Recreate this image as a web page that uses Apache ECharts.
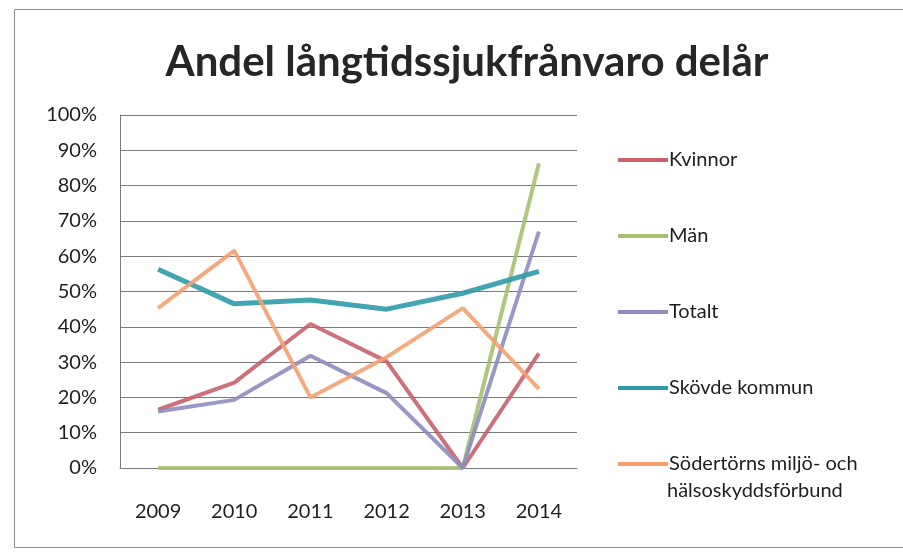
<!DOCTYPE html>
<html>
<head>
<meta charset="utf-8">
<script src="https://cdn.jsdelivr.net/npm/echarts@6/dist/echarts.min.js"></script>
<style>
  html, body { margin: 0; padding: 0; background: #fff; }
  #chart { width: 903px; height: 555px; }
</style>
</head>
<body>
<div id="chart"></div>
<script>
var years = ['2009', '2010', '2011', '2012', '2013', '2014'];
var kvinnor = [16.5, 24.2, 40.8, 30.2, 0, 32.5];
var man = [0, 0, 0, 0, 0, 86.3];
var totalt = [16, 19.3, 31.8, 21.2, 0, 67];
var skovde = [56.3, 46.5, 47.6, 45, 49.5, 55.7];
var sodertorn = [45.3, 61.6, 20, 31.4, 45.3, 22.4];

var names = ['Kvinnor', 'Män', 'Totalt', 'Skövde kommun', 'Södertörns miljö- och hälsoskyddsförbund'];
var colors = ['#c9606a', '#a5c070', '#8d8cbf', '#2e9ba8', '#f4a070'];
var widths = [4, 4, 4, 5, 4];
var values = [kvinnor, man, totalt, skovde, sodertorn];

var font = 'Lato, "Open Sans", sans-serif';

var chart = echarts.init(document.getElementById('chart'));

var series = [];
for (var i = 0; i < names.length; i++) {
    series.push({
        name: names[i],
        type: 'line',
        data: values[i],
        showSymbol: false,
        symbol: 'none',
        lineStyle: { width: widths[i], color: colors[i], opacity: 0.9 },
        itemStyle: { color: colors[i] }
    });
}

var option = {
    backgroundColor: '#fff',
    animation: false,
    color: colors,
    title: {
        text: 'Andel långtidssjukfrånvaro delår',
        left: 462,
        top: 36,
        textAlign: 'center',
        textStyle: { fontFamily: font, fontWeight: 'bold', fontSize: 42, color: '#262626' }
    },
    legend: {
        orient: 'vertical',
        left: 613,
        top: 145,
        itemGap: 56,
        itemWidth: 50,
        itemHeight: 4,
        icon: 'rect',
        data: names,
        formatter: function (n) {
            return n === names[4] ? 'Södertörns miljö- och' : n;
        },
        textStyle: { fontFamily: font, fontSize: 20, color: '#1e1e1e', padding: [0, 0, 0, -4] }
    },
    grid: { left: 120, right: 326, top: 115, bottom: 87 },
    xAxis: {
        type: 'category',
        data: years,
        boundaryGap: true,
        axisLine: { lineStyle: { color: '#7a7a7a', width: 1 } },
        axisTick: { show: false },
        axisLabel: { fontFamily: font, fontSize: 20, color: '#1e1e1e', margin: 34 }
    },
    yAxis: {
        type: 'value',
        min: 0,
        max: 100,
        interval: 10,
        axisLine: { show: true, lineStyle: { color: '#7a7a7a', width: 1 } },
        axisTick: { show: false },
        splitLine: { lineStyle: { color: '#7a7a7a', width: 1 } },
        axisLabel: { fontFamily: font, fontSize: 20, color: '#1e1e1e', margin: 23, formatter: '{value}%' }
    },
    graphic: [
        {
            type: 'rect',
            shape: { x: 14.5, y: 9.5, width: 900, height: 538 },
            style: { fill: 'none', stroke: '#8a8a8a', lineWidth: 1 },
            silent: true
        },
        {
            type: 'text',
            left: 667,
            top: 481,
            style: { text: 'hälsoskyddsförbund', fontFamily: font, fontSize: 20, fill: '#1e1e1e' }
        }
    ],
    series: series
};

chart.setOption(option);
</script>
</body>
</html>
